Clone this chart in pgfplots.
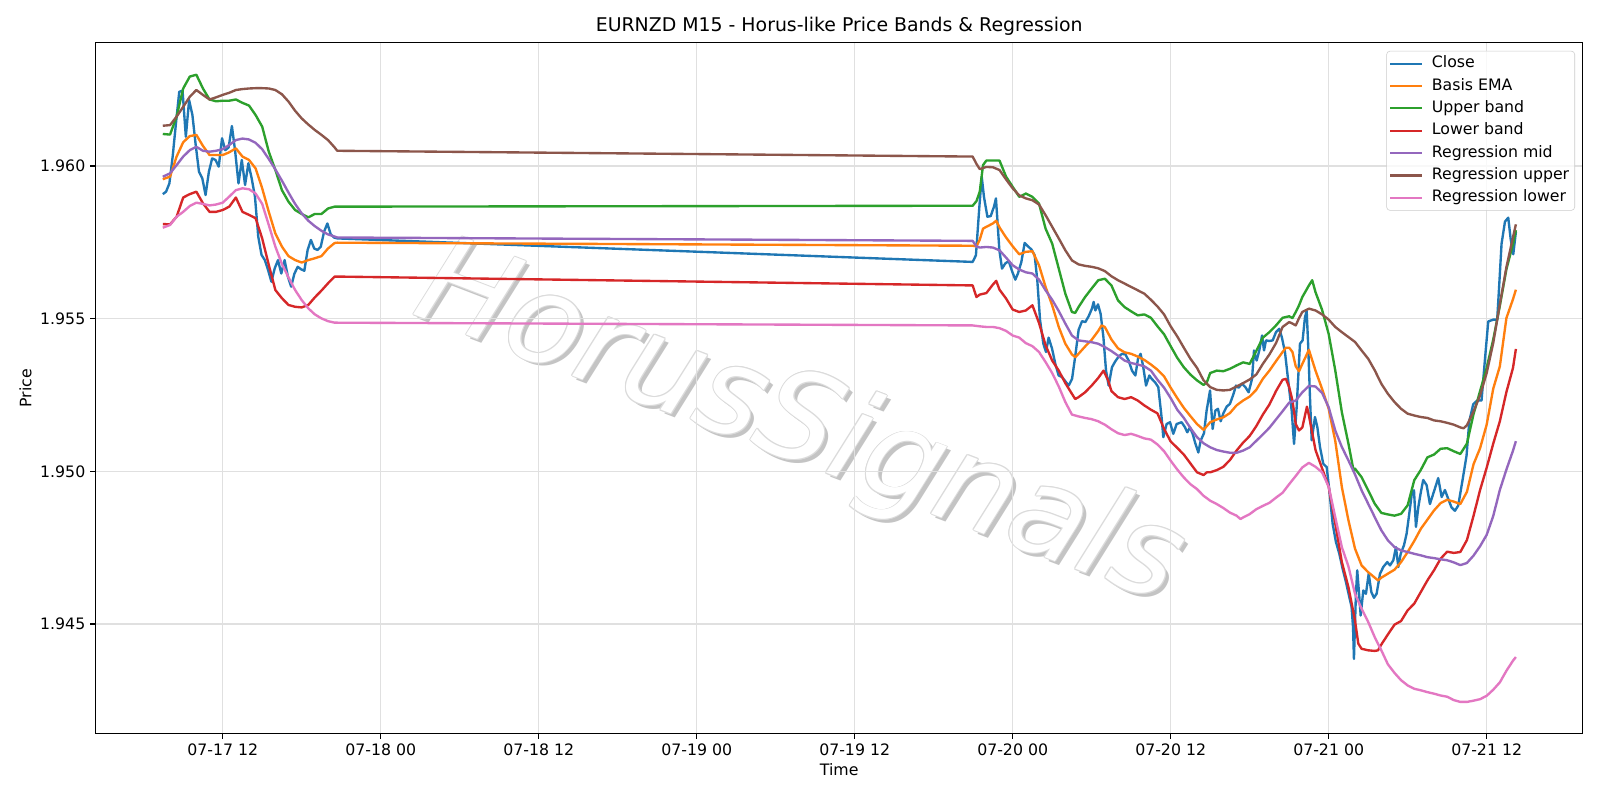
\documentclass[border=0pt]{standalone}
\usepackage{fontspec}
\setmainfont{DejaVu Sans}
\usepackage{pgfplots}
\pgfplotsset{compat=1.18}
\definecolor{c0}{HTML}{1F77B4}
\definecolor{c1}{HTML}{FF7F0E}
\definecolor{c2}{HTML}{2CA02C}
\definecolor{c3}{HTML}{D62728}
\definecolor{c4}{HTML}{9467BD}
\definecolor{c5}{HTML}{8C564B}
\definecolor{c6}{HTML}{E377C2}
\newcommand{\wmfont}{\fontsize{89bp}{100bp}\selectfont\itshape}
\begin{document}
\begin{tikzpicture}
\path[use as bounding box, fill=white] (0,0) rectangle (1152bp,576bp);
% watermark
\begin{scope}[shift={(575.5bp,269bp)}]
  \node[rotate=-21, text=black!23, font=\wmfont, inner sep=0] at (2.8bp,-2.8bp) {HorusSignals};
  \foreach \dx/\dy in {0.7/0,-0.7/0,0/0.7,0/-0.7,0.5/0.5,-0.5/0.5,0.5/-0.5,-0.5/-0.5}
    \node[rotate=-21, text=black!14, font=\wmfont, inner sep=0] at (\dx bp,\dy bp) {HorusSignals};
  \node[rotate=-21, text=white, font=\wmfont, inner sep=0] at (0,0) {HorusSignals};
\end{scope}
\begin{axis}[
  at={(68.9bp,48bp)}, anchor=south west,
  scale only axis, width=1070.6bp, height=497.2bp,
  xmin=2.354, xmax=115.29, ymin=1.941421, ymax=1.964037,
  xtick={12,24,36,48,60,72,84,96,108},
  xticklabels={07-17 12,07-18 00,07-18 12,07-19 00,07-19 12,07-20 00,07-20 12,07-21 00,07-21 12},
  ytick={1.945,1.950,1.955,1.960},
  yticklabels={1.945,1.950,1.955,1.960},
  xtick pos=left, ytick pos=left,
  tick align=outside, major tick length=3.97bp,
  tick style={black, line width=0.9bp},
  axis line style={black, line width=0.9bp},
  grid=major, major grid style={black!12, line width=0.9bp},
  every tick label/.append style={font=\fontsize{11.34bp}{13.6bp}\selectfont},
  every axis plot/.append style={line width=1.7bp, line join=round},
  legend cell align=left,
  legend style={at={(1,1)}, anchor=north east, xshift=-5.5bp, yshift=-5.8bp,
    draw=black!20, fill=white, fill opacity=0.8, text opacity=1, rounded corners=2.5bp,
    font=\fontsize{11.34bp}{13.6bp}\selectfont,
    inner xsep=2bp, inner ysep=1bp, row sep=0bp,
    nodes={inner xsep=2bp, inner ysep=2.5bp, text height=8.5bp, text depth=2.6bp},
    /tikz/every odd column/.append style={column sep=4.4bp}},
  legend image code/.code={\draw[#1, line width=1.5bp] (0bp,0bp) -- (22.7bp,0bp);},
]
% Close
\addplot[c0] coordinates {
(7.45,1.95908) (7.7,1.95916) (7.95,1.95943) (8.2,1.96031) (8.45,1.96140) (8.7,1.96243) (8.95,1.96247) (9.2,1.96096) (9.45,1.96216) (9.7,1.96167)
(9.95,1.96069) (10.2,1.95981) (10.45,1.95960) (10.7,1.95905) (10.95,1.95981) (11.2,1.96025) (11.45,1.96020) (11.7,1.95998) (11.95,1.96091) (12.2,1.96052)
(12.45,1.96061) (12.7,1.96131) (12.95,1.96047) (13.2,1.95943) (13.45,1.96020) (13.7,1.95938) (13.95,1.96009) (14.2,1.95960) (14.45,1.95900) (14.7,1.95769)
(14.95,1.95709) (15.2,1.95692) (15.45,1.95659) (15.7,1.95621) (15.95,1.95665) (16.2,1.95692) (16.45,1.95648) (16.7,1.95692) (16.95,1.95638) (17.2,1.95605)
(17.45,1.95648) (17.7,1.95670) (17.95,1.95662) (18.2,1.95657) (18.45,1.95725) (18.7,1.95758) (18.95,1.95730) (19.2,1.95725) (19.45,1.95736) (19.7,1.95785)
(19.95,1.95812) (20.2,1.95777) (20.45,1.95766) (20.7,1.95763)
(68.96,1.95686) (69.21,1.95708) (69.47,1.95867) (69.65,1.95965) (69.82,1.95899) (70.08,1.95834) (70.33,1.95836) (70.58,1.95867) (70.73,1.95894) (70.99,1.95724)
(71.19,1.95664) (71.44,1.95681) (71.70,1.95689) (71.95,1.95656) (72.20,1.95628) (72.40,1.95648) (72.66,1.95686) (72.91,1.95748) (73.16,1.95737) (73.42,1.95727)
(73.67,1.95708) (73.87,1.95626) (74.08,1.95495) (74.33,1.95418) (74.53,1.95391) (74.73,1.95438) (74.99,1.95402) (75.24,1.95352) (75.49,1.95314) (75.75,1.95309)
(76.00,1.95295) (76.25,1.95281) (76.51,1.95303) (76.76,1.95380) (77.01,1.95464) (77.27,1.95492) (77.52,1.95489) (77.77,1.95508) (78.02,1.95533) (78.15,1.95555)
(78.28,1.95527) (78.48,1.95547) (78.68,1.95516) (78.89,1.95440) (79.09,1.95330) (79.29,1.95281) (79.54,1.95341) (79.80,1.95361) (80.05,1.95376) (80.30,1.95385)
(80.56,1.95383) (80.81,1.95363) (81.06,1.95330) (81.32,1.95314) (81.52,1.95369) (81.72,1.95385) (81.92,1.95341) (82.13,1.95281) (82.38,1.95314) (82.56,1.95303)
(82.81,1.95292) (83.06,1.95276) (83.31,1.95177) (83.44,1.95112) (83.69,1.95155) (83.95,1.95161) (84.20,1.95123) (84.45,1.95155) (84.83,1.95161) (85.09,1.95144)
(85.26,1.95128) (85.47,1.95144) (85.67,1.95123) (85.87,1.95092) (86.10,1.95062) (86.28,1.95101) (86.53,1.95125) (86.73,1.95199) (86.99,1.95265) (87.19,1.95139)
(87.39,1.95199) (87.59,1.95205) (87.80,1.95164) (88.00,1.95190) (88.25,1.95212) (88.50,1.95221) (88.76,1.95252) (88.96,1.95281) (89.16,1.95274) (89.42,1.95287)
(89.67,1.95276) (89.92,1.95259) (90.18,1.95303) (90.33,1.95396) (90.53,1.95363) (90.73,1.95396) (90.94,1.95445) (91.09,1.95396) (91.24,1.95429) (91.49,1.95427)
(91.75,1.95429) (92.00,1.95456) (92.25,1.95467) (92.45,1.95438) (92.68,1.95391) (92.94,1.95292) (93.19,1.95199) (93.37,1.95090) (93.57,1.95210) (93.82,1.95418)
(94.02,1.95429) (94.20,1.95505) (94.33,1.95525) (94.45,1.95407) (94.58,1.95243) (94.71,1.95102) (94.96,1.95178) (95.14,1.95145) (95.34,1.95080) (95.59,1.95025)
(95.85,1.95014) (96.05,1.94938) (96.30,1.94829) (96.55,1.94769) (96.81,1.94730) (97.06,1.94681) (97.31,1.94638) (97.57,1.94588) (97.74,1.94556) (97.85,1.94490)
(97.92,1.94386) (98.07,1.94599) (98.17,1.94676) (98.33,1.94588) (98.43,1.94528) (98.63,1.94610) (98.83,1.94599) (99.04,1.94665) (99.24,1.94605) (99.44,1.94586)
(99.64,1.94599) (99.90,1.94665) (100.15,1.94687) (100.45,1.94703) (100.66,1.94692) (100.91,1.94709) (101.11,1.94752) (101.29,1.94687) (101.47,1.94730) (101.72,1.94758)
(101.92,1.94796) (102.12,1.94861) (102.33,1.94932) (102.48,1.94938) (102.63,1.94818) (102.81,1.94883) (102.98,1.94927) (103.18,1.94972) (103.44,1.94955) (103.69,1.94893)
(104.07,1.94944) (104.32,1.94978) (104.58,1.94916) (104.83,1.94939) (105.08,1.94910) (105.33,1.94882) (105.59,1.94871) (105.84,1.94888) (106.17,1.94972) (106.47,1.95051)
(106.68,1.95164) (106.98,1.95220) (107.28,1.95232) (107.61,1.95232) (107.87,1.95367) (108.12,1.95491) (108.50,1.95497) (108.80,1.95497) (108.96,1.95615) (109.13,1.95745)
(109.39,1.95818) (109.64,1.95831) (109.82,1.95762) (110.02,1.95711) (110.22,1.95784)
};
\addlegendentry{Close}
% Basis EMA
\addplot[c1] coordinates {
(7.45,1.95957) (8,1.95965) (8.5,1.96031) (9,1.96078) (9.5,1.96098) (10,1.96102) (10.5,1.96066) (11,1.96036) (11.5,1.96036) (12,1.96036)
(12.5,1.96045) (13,1.96058) (13.5,1.96031) (14,1.96020) (14.5,1.95992) (15,1.95927) (15.5,1.95850) (16,1.95779) (16.5,1.95736) (17,1.95705)
(17.5,1.95692) (18,1.95684) (18.5,1.95692) (19,1.95698) (19.5,1.95705) (20,1.95730) (20.5,1.95748) (20.7,1.95749)
(68.96,1.95739) (69.25,1.95737) (69.5,1.95759) (69.75,1.95795) (70,1.95801) (70.5,1.95812) (70.75,1.95821) (71,1.95799) (71.5,1.95766) (72,1.95737)
(72.5,1.95711) (73,1.95719) (73.5,1.95721) (74,1.95675) (74.5,1.95604) (75,1.95544) (75.5,1.95473) (76,1.95418) (76.5,1.95383) (76.75,1.95374)
(77,1.95385) (77.5,1.95409) (78,1.95431) (78.5,1.95460) (78.75,1.95478) (79,1.95473) (79.5,1.95432) (80,1.95403) (80.5,1.95390) (81,1.95385)
(81.5,1.95376) (82,1.95365) (82.5,1.95350) (83,1.95333) (83.5,1.95311) (84,1.95274) (84.5,1.95240) (85,1.95208) (85.5,1.95181) (86,1.95155)
(86.5,1.95136) (87,1.95161) (87.5,1.95170) (88,1.95177) (88.5,1.95191) (89,1.95216) (89.5,1.95232) (90,1.95245) (90.5,1.95267) (91,1.95303)
(91.5,1.95330) (92,1.95361) (92.5,1.95391) (92.75,1.95405) (93,1.95405) (93.25,1.95391) (93.5,1.95344) (93.75,1.95328) (94,1.95352) (94.5,1.95398)
(95,1.95330) (95.5,1.95270) (96,1.95205) (96.5,1.95100) (97,1.94949) (97.5,1.94840) (98,1.94747) (98.5,1.94692) (99,1.94670) (99.5,1.94652)
(99.75,1.94643) (100,1.94652) (100.5,1.94665) (101,1.94678) (101.5,1.94703) (102,1.94736) (102.5,1.94772) (103,1.94812) (103.5,1.94842) (104,1.94872)
(104.5,1.94896) (105,1.94907) (105.5,1.94901) (106,1.94893) (106.5,1.94933) (107,1.95023) (107.5,1.95076) (108,1.95153) (108.5,1.95271) (109,1.95344)
(109.5,1.95502) (110,1.95564) (110.22,1.95595)
};
\addlegendentry{Basis EMA}
% Upper band
\addplot[c2] coordinates {
(7.45,1.96105) (8,1.96103) (8.5,1.96162) (9,1.96254) (9.5,1.96293) (10,1.96299) (10.5,1.96254) (11,1.96218) (11.5,1.96212) (12,1.96214)
(12.5,1.96214) (13,1.96218) (13.5,1.96207) (14,1.96198) (14.5,1.96167) (15,1.96129) (15.5,1.96047) (16,1.95987) (16.5,1.95921) (17,1.95883)
(17.5,1.95856) (18,1.95843) (18.5,1.95832) (19,1.95843) (19.5,1.95843) (20,1.95861) (20.5,1.95867) (20.7,1.95867)
(68.96,1.95870) (69.25,1.95885) (69.5,1.95916) (69.75,1.96003) (70,1.96018) (70.5,1.96018) (71,1.96018) (71.5,1.95965) (72,1.95932) (72.5,1.95899)
(73,1.95910) (73.5,1.95899) (74,1.95877) (74.5,1.95795) (75,1.95746) (75.5,1.95664) (76,1.95582) (76.5,1.95522) (76.75,1.95519) (77,1.95538)
(77.5,1.95571) (78,1.95599) (78.5,1.95626) (79,1.95631) (79.5,1.95609) (80,1.95560) (80.5,1.95538) (81,1.95524) (81.5,1.95511) (82,1.95514)
(82.5,1.95503) (83,1.95475) (83.5,1.95449) (84,1.95410) (84.5,1.95372) (85,1.95341) (85.5,1.95317) (86,1.95298) (86.5,1.95283) (86.75,1.95292)
(87,1.95322) (87.5,1.95330) (88,1.95328) (88.5,1.95336) (89,1.95347) (89.5,1.95357) (90,1.95352) (90.5,1.95394) (91,1.95438) (91.5,1.95456)
(92,1.95478) (92.5,1.95503) (93,1.95508) (93.25,1.95502) (93.5,1.95522) (93.75,1.95544) (94,1.95571) (94.5,1.95609) (94.75,1.95626) (95,1.95587)
(95.5,1.95529) (96,1.95450) (96.5,1.95331) (97,1.95194) (97.5,1.95091) (97.9,1.95001) (98,1.95009) (98.5,1.94981) (99,1.94938) (99.5,1.94894)
(100,1.94864) (100.5,1.94859) (101,1.94855) (101.5,1.94861) (102,1.94889) (102.5,1.94971) (103,1.95005) (103.5,1.95046) (104,1.95055) (104.5,1.95074)
(105,1.95076) (105.5,1.95066) (106,1.95057) (106.5,1.95091) (107,1.95187) (107.5,1.95263) (108,1.95339) (108.5,1.95432) (109,1.95542) (109.5,1.95662)
(110,1.95745) (110.22,1.95790)
};
\addlegendentry{Upper band}
% Lower band
\addplot[c3] coordinates {
(7.45,1.95810) (8,1.95809) (8.5,1.95834) (9,1.95897) (9.5,1.95908) (10,1.95916) (10.5,1.95878) (11,1.95850) (11.5,1.95850) (12,1.95856)
(12.5,1.95867) (13,1.95897) (13.5,1.95850) (14,1.95840) (14.5,1.95829) (15,1.95763) (15.5,1.95676) (16,1.95594) (16.5,1.95567) (17,1.95545)
(17.5,1.95539) (18,1.95537) (18.5,1.95545) (19,1.95570) (19.5,1.95592) (20,1.95616) (20.5,1.95638) (20.7,1.95638)
(68.96,1.95609) (69.25,1.95571) (69.5,1.95579) (70,1.95584) (70.5,1.95612) (70.75,1.95624) (71,1.95595) (71.5,1.95566) (72,1.95530) (72.5,1.95522)
(73,1.95527) (73.5,1.95544) (74,1.95486) (74.5,1.95413) (75,1.95363) (75.5,1.95330) (76,1.95289) (76.5,1.95254) (76.75,1.95237) (77,1.95243)
(77.5,1.95259) (78,1.95281) (78.5,1.95306) (78.9,1.95330) (79.25,1.95298) (79.5,1.95263) (80,1.95243) (80.5,1.95237) (81,1.95243) (81.5,1.95232)
(82,1.95216) (82.5,1.95202) (83,1.95190) (83.5,1.95139) (84,1.95098) (84.5,1.95077) (85,1.95055) (85.5,1.95026) (86,1.94997) (86.5,1.94988)
(86.75,1.94997) (87,1.94997) (87.5,1.95004) (88,1.95015) (88.5,1.95037) (89,1.95068) (89.5,1.95094) (90,1.95116) (90.5,1.95148) (91,1.95186)
(91.5,1.95219) (92,1.95263) (92.5,1.95300) (92.75,1.95303) (93,1.95276) (93.25,1.95232) (93.5,1.95155) (93.75,1.95134) (94,1.95144) (94.35,1.95212)
(94.5,1.95183) (95,1.95070) (95.5,1.95010) (96,1.94950) (96.5,1.94829) (97,1.94703) (97.5,1.94621) (98,1.94512) (98.25,1.94436) (98.5,1.94419)
(99,1.94414) (99.5,1.94412) (99.75,1.94414) (100,1.94433) (100.5,1.94466) (101,1.94498) (101.5,1.94510) (102,1.94545) (102.5,1.94567) (103,1.94605)
(103.5,1.94643) (104,1.94676) (104.5,1.94714) (105,1.94737) (105.5,1.94733) (106,1.94736) (106.5,1.94775) (107,1.94854) (107.5,1.94939) (108,1.95012)
(108.5,1.95091) (109,1.95164) (109.5,1.95260) (110,1.95339) (110.22,1.95401)
};
\addlegendentry{Lower band}
% Regression mid
\addplot[c4] coordinates {
(7.45,1.95965) (8,1.95976) (8.5,1.96003) (9,1.96031) (9.5,1.96052) (10,1.96063) (10.5,1.96050) (11,1.96047) (11.5,1.96050) (12,1.96055)
(12.5,1.96069) (13,1.96085) (13.5,1.96090) (14,1.96087) (14.5,1.96076) (15,1.96055) (15.5,1.96023) (16,1.95989) (16.5,1.95952) (17,1.95913)
(17.5,1.95876) (18,1.95845) (18.5,1.95821) (19,1.95803) (19.5,1.95788) (20,1.95776) (20.5,1.95769) (20.7,1.95766)
(68.96,1.95755) (69.25,1.95737) (69.5,1.95733) (70,1.95735) (70.5,1.95733) (71,1.95724) (71.5,1.95700) (72,1.95675) (72.5,1.95661) (73,1.95652)
(73.5,1.95648) (74,1.95628) (74.5,1.95593) (75,1.95562) (75.5,1.95525) (76,1.95484) (76.5,1.95445) (77,1.95429) (77.5,1.95426) (78,1.95423)
(78.5,1.95418) (79,1.95407) (79.5,1.95394) (80,1.95379) (80.5,1.95363) (81,1.95355) (81.5,1.95350) (82,1.95344) (82.5,1.95330) (83,1.95300)
(83.5,1.95274) (84,1.95240) (84.5,1.95202) (85,1.95175) (85.5,1.95142) (86,1.95112) (86.5,1.95092) (87,1.95079) (87.5,1.95070) (88,1.95065)
(88.5,1.95061) (89,1.95061) (89.5,1.95068) (90,1.95079) (90.5,1.95100) (91,1.95121) (91.5,1.95143) (92,1.95170) (92.5,1.95197) (93,1.95225)
(93.5,1.95232) (94,1.95259) (94.5,1.95280) (95,1.95278) (95.5,1.95257) (96,1.95210) (96.5,1.95134) (97,1.95080) (97.5,1.95036) (98,1.94990)
(98.5,1.94938) (99,1.94894) (99.5,1.94850) (100,1.94807) (100.5,1.94774) (101,1.94752) (101.5,1.94741) (102,1.94736) (102.5,1.94730) (103,1.94725)
(103.5,1.94719) (104,1.94716) (104.5,1.94712) (105,1.94709) (105.5,1.94702) (106,1.94693) (106.5,1.94700) (107,1.94724) (107.5,1.94755) (108,1.94792)
(108.5,1.94854) (109,1.94939) (109.5,1.95006) (110,1.95068) (110.22,1.95099)
};
\addlegendentry{Regression mid}
% Regression upper
\addplot[c5] coordinates {
(7.45,1.96132) (8,1.96134) (8.5,1.96162) (9,1.96194) (9.5,1.96227) (10,1.96249) (10.5,1.96233) (11,1.96218) (11.5,1.96225) (12,1.96233)
(12.5,1.96240) (13,1.96249) (13.5,1.96252) (14,1.96254) (14.5,1.96255) (15,1.96255) (15.5,1.96254) (16,1.96249) (16.5,1.96235) (17,1.96211)
(17.5,1.96181) (18,1.96156) (18.5,1.96136) (19,1.96118) (19.5,1.96102) (20,1.96085) (20.5,1.96061) (20.7,1.96050)
(68.96,1.96031) (69.25,1.96007) (69.5,1.95990) (70,1.95997) (70.5,1.95996) (71,1.95987) (71.5,1.95956) (72,1.95927) (72.5,1.95904) (73,1.95894)
(73.5,1.95888) (74,1.95874) (74.5,1.95839) (75,1.95801) (75.5,1.95763) (76,1.95724) (76.5,1.95691) (77,1.95678) (77.5,1.95673) (78,1.95670)
(78.5,1.95665) (79,1.95656) (79.5,1.95639) (80,1.95626) (80.5,1.95615) (81,1.95604) (81.5,1.95593) (82,1.95582) (82.5,1.95562) (83,1.95540)
(83.5,1.95514) (84,1.95475) (84.5,1.95442) (85,1.95405) (85.5,1.95369) (86,1.95339) (86.5,1.95298) (87,1.95276) (87.5,1.95267) (88,1.95265)
(88.5,1.95267) (89,1.95278) (89.5,1.95289) (90,1.95301) (90.5,1.95317) (91,1.95352) (91.5,1.95383) (92,1.95420) (92.5,1.95473) (93,1.95489)
(93.25,1.95484) (93.5,1.95478) (93.75,1.95502) (94,1.95522) (94.5,1.95533) (95,1.95527) (95.5,1.95514) (96,1.95497) (96.5,1.95473) (97,1.95456)
(97.5,1.95440) (98,1.95424) (98.5,1.95396) (99,1.95369) (99.5,1.95331) (100,1.95287) (100.5,1.95254) (101,1.95227) (101.5,1.95205) (102,1.95189)
(102.5,1.95183) (103,1.95178) (103.5,1.95175) (104,1.95167) (104.5,1.95164) (105,1.95159) (105.5,1.95153) (106,1.95144) (106.25,1.95141) (106.5,1.95151)
(107,1.95196) (107.5,1.95249) (108,1.95322) (108.5,1.95421) (109,1.95547) (109.5,1.95669) (110,1.95767) (110.22,1.95809)
};
\addlegendentry{Regression upper}
% Regression lower
\addplot[c6] coordinates {
(7.45,1.95798) (8,1.95807) (8.5,1.95834) (9,1.95850) (9.5,1.95869) (10,1.95880) (10.5,1.95876) (11,1.95871) (11.5,1.95874) (12,1.95880)
(12.5,1.95900) (13,1.95921) (13.5,1.95927) (14,1.95924) (14.5,1.95910) (15,1.95876) (15.5,1.95807) (16,1.95736) (16.5,1.95679) (17,1.95635)
(17.5,1.95594) (18,1.95561) (18.5,1.95534) (19,1.95514) (19.5,1.95501) (20,1.95492) (20.5,1.95487) (20.7,1.95487)
(68.96,1.95478) (69.5,1.95475) (70,1.95473) (70.5,1.95473) (71,1.95469) (71.5,1.95460) (72,1.95445) (72.5,1.95438) (73,1.95420) (73.5,1.95410)
(74,1.95391) (74.5,1.95358) (75,1.95322) (75.5,1.95278) (76,1.95227) (76.5,1.95186) (77,1.95180) (77.5,1.95175) (78,1.95171) (78.5,1.95164)
(79,1.95153) (79.5,1.95138) (80,1.95125) (80.5,1.95119) (81,1.95123) (81.5,1.95116) (82,1.95108) (82.5,1.95104) (83,1.95088) (83.5,1.95066)
(84,1.95035) (84.5,1.95006) (85,1.94980) (85.5,1.94958) (86,1.94942) (86.5,1.94920) (87,1.94904) (87.5,1.94893) (88,1.94880) (88.5,1.94865)
(89,1.94855) (89.3,1.94844) (89.5,1.94849) (90,1.94860) (90.5,1.94876) (91,1.94887) (91.5,1.94897) (92,1.94914) (92.5,1.94930) (93,1.94958)
(93.5,1.94985) (94,1.95013) (94.5,1.95028) (95,1.95015) (95.5,1.94997) (96,1.94950) (96.5,1.94850) (97,1.94752) (97.5,1.94689) (98,1.94599)
(98.5,1.94550) (99,1.94507) (99.5,1.94457) (100,1.94414) (100.5,1.94368) (101,1.94340) (101.5,1.94316) (102,1.94299) (102.5,1.94288) (103,1.94283)
(103.5,1.94277) (104,1.94272) (104.5,1.94266) (105,1.94262) (105.5,1.94251) (106,1.94245) (106.5,1.94245) (107,1.94249) (107.5,1.94254) (108,1.94265)
(108.5,1.94285) (109,1.94309) (109.5,1.94347) (110,1.94380) (110.22,1.94392)
};
\addlegendentry{Regression lower}
\end{axis}
\node[font=\fontsize{13.6bp}{16bp}\selectfont] at (604.2bp,557.3bp) {EURNZD M15 - Horus-like Price Bands \& Regression};
\node[font=\fontsize{11.34bp}{13.6bp}\selectfont] at (604.2bp,21.6bp) {Time};
\node[font=\fontsize{11.34bp}{13.6bp}\selectfont, rotate=90] at (18.4bp,296.6bp) {Price};
\end{tikzpicture}
\end{document}
